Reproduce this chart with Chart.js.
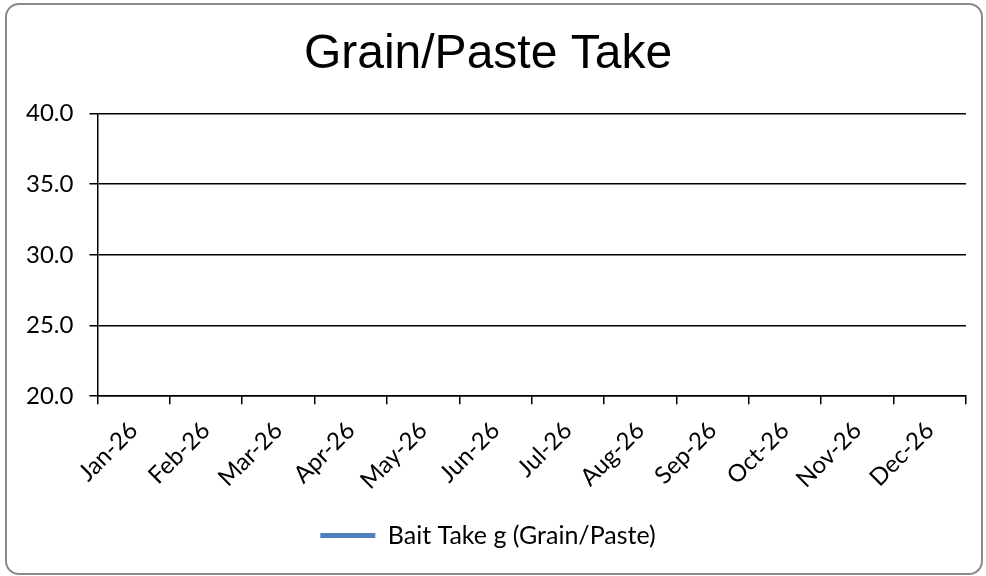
<!DOCTYPE html>
<html>
<head>
<meta charset="utf-8">
<script src="https://cdn.jsdelivr.net/npm/chart.js@4.4.1/dist/chart.umd.min.js"></script>
<style>
  html, body { margin: 0; padding: 0; background: #fff; }
  #wrap { position: absolute; left: 0; top: 0; width: 986px; height: 576px; }
  #frame {
    position: absolute; left: 5px; top: 3px; width: 974px; height: 568px;
    border: 2px solid #8a8a8a; border-radius: 14px; pointer-events: none;
  }
</style>
</head>
<body>
<div id="wrap"><canvas id="chart" width="986" height="576"></canvas></div>
<div id="frame"></div>
<script>
// categories (month labels on the x axis)
const months = ['Jan-26', 'Feb-26', 'Mar-26', 'Apr-26', 'May-26', 'Jun-26',
                'Jul-26', 'Aug-26', 'Sep-26', 'Oct-26', 'Nov-26', 'Dec-26'];
// series values - the source chart has no points plotted yet
const baitTake = [null, null, null, null, null, null, null, null, null, null, null, null];
// y axis range
const yMin = 20;
const yMax = 40;
const yStep = 5;

const LABEL_FONT = 'Lato, "Noto Sans", sans-serif';

new Chart(document.getElementById('chart').getContext('2d'), {
    type: 'line',
    data: {
        labels: months,
        datasets: [{
            label: 'Bait Take g (Grain/Paste)',
            data: baitTake,
            borderColor: '#4F81BD',
            backgroundColor: '#4F81BD',
            borderWidth: 5,
            borderCapStyle: 'round',
            pointRadius: 0,
            pointStyle: 'line'
        }]
    },
    options: {
        responsive: false,
        animation: false,
        layout: { padding: { left: 10, right: 20, top: 6, bottom: 18 } },
        plugins: {
            title: {
                display: true,
                text: 'Grain/Paste Take',
                color: '#000',
                font: { family: '"Liberation Sans", Arial, sans-serif', size: 48, weight: 'normal' },
                padding: { top: 20, bottom: 30 }
            },
            legend: {
                position: 'bottom',
                labels: {
                    usePointStyle: true,
                    pointStyleWidth: 55,
                    color: '#000',
                    font: { family: LABEL_FONT, size: 25 },
                    padding: 10
                }
            },
            tooltip: { enabled: false }
        },
        scales: {
            x: {
                offset: true,
                grid: { offset: true, drawOnChartArea: false, color: '#000', lineWidth: 1.5, tickLength: 8 },
                border: { color: '#000', width: 1.5 },
                ticks: {
                    autoSkip: false, maxRotation: 45, minRotation: 45,
                    color: '#000', padding: 12,
                    font: { family: LABEL_FONT, size: 24 }
                },
                afterFit: scale => { scale.height += 6; }
            },
            y: {
                min: yMin, max: yMax,
                grid: { color: '#000', lineWidth: 1.5, tickLength: 8 },
                border: { color: '#000', width: 1.5 },
                ticks: {
                    stepSize: yStep, color: '#000', padding: 16,
                    font: { family: LABEL_FONT, size: 24 },
                    callback: v => v.toFixed(1)
                }
            }
        }
    }
});
</script>
</body>
</html>
